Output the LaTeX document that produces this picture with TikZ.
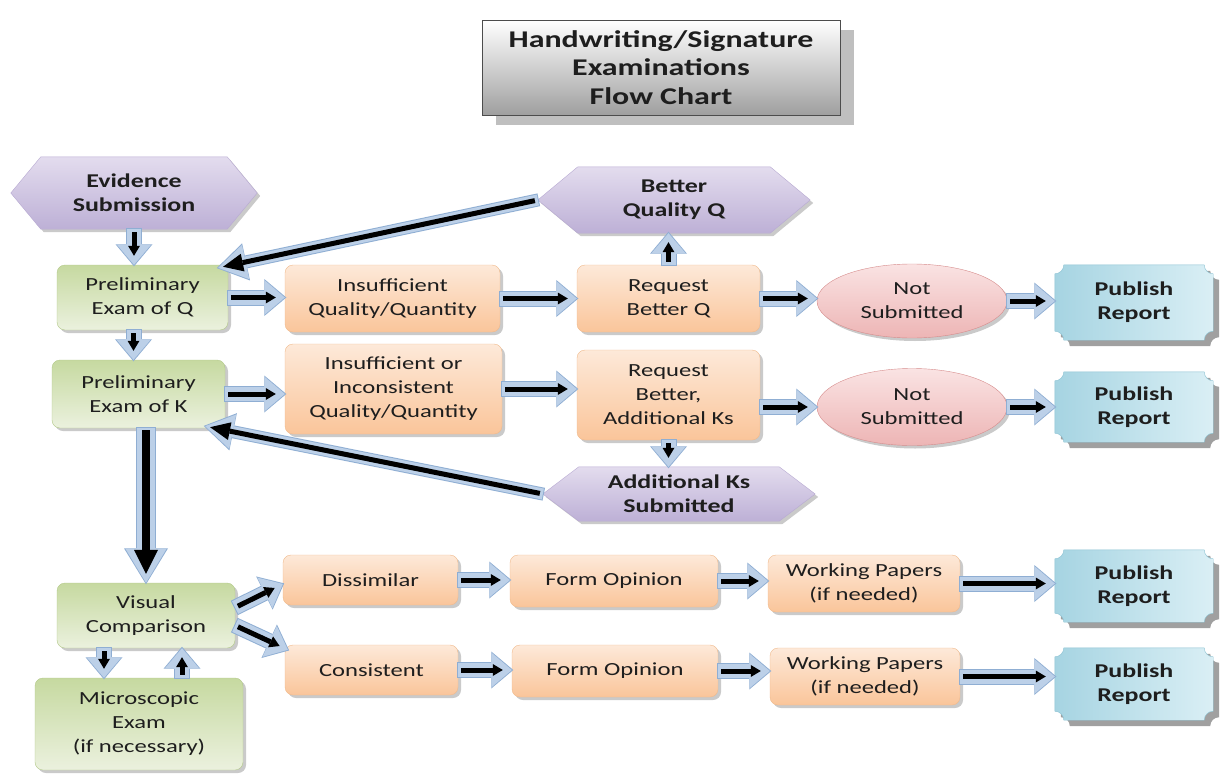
\documentclass[tikz,border=0pt]{standalone}
\usepackage{fontspec}
\setmainfont{Carlito}[FakeStretch=1.33]
\usetikzlibrary{arrows.meta,shapes.geometric,shadows,calc}
\pgfdeclarelayer{bg}\pgfsetlayers{bg,main}
\definecolor{txt}{HTML}{1E1E1E}
\definecolor{arrblue}{HTML}{BCD0E8}
\definecolor{arrline}{HTML}{8FAED3}
\definecolor{greenA}{HTML}{C6D9A0}
\definecolor{greenB}{HTML}{EBF1DE}
\definecolor{greenline}{HTML}{B3C98A}
\definecolor{orangeA}{HTML}{FDE9D9}
\definecolor{orangeB}{HTML}{FAC59A}
\definecolor{orangeline}{HTML}{F0BA8C}
\definecolor{pinkA}{HTML}{FAE3E3}
\definecolor{pinkB}{HTML}{EDB5B5}
\definecolor{pinkline}{HTML}{D68C8C}
\definecolor{hexA}{HTML}{E3DCEE}
\definecolor{hexB}{HTML}{BDB0D6}
\definecolor{hexline}{HTML}{B8AAD2}
\definecolor{pubA}{HTML}{A6D4E2}
\definecolor{pubB}{HTML}{DAEFF5}
\definecolor{publine}{HTML}{8CC2D2}
\newcommand\fat[2]{\draw[fo#1] #2;\draw[fb#1] #2;\draw[fk#1] #2;}
\begin{document}
\begin{tikzpicture}[x=1pt,y=1pt,
  every node/.style={font=\fontsize{18.5}{24}\selectfont, text=txt, align=center, inner sep=0pt},
  sz/.style 2 args={minimum width=#1pt, minimum height=#2pt},
  bold/.style={font=\fontsize{19.5}{24}\selectfont\bfseries},
  smallshadow/.style={drop shadow={shadow xshift=3pt, shadow yshift=-3pt, fill=black!35, opacity=.6}},
  greenbox/.style={rectangle, rounded corners=8pt, draw=greenline, top color=greenA, bottom color=greenB, smallshadow},
  orangebox/.style={rectangle, rounded corners=8pt, draw=orangeline, top color=orangeA, bottom color=orangeB, smallshadow},
  pinkell/.style={ellipse, draw=pinkline, top color=pinkA, bottom color=pinkB, smallshadow},
  hexa/.style={draw=hexline, top color=hexA, bottom color=hexB, drop shadow={shadow xshift=3pt, shadow yshift=-3pt, fill=black!35, opacity=.6}},
  plaque/.style={draw=publine, left color=pubA, right color=pubB, drop shadow={shadow xshift=6pt, shadow yshift=-6pt, fill=black!50, opacity=.75}},
  titlebox/.style={rectangle, draw=gray!60!black, top color=white, bottom color=gray!75, drop shadow={shadow xshift=14pt, shadow yshift=-10pt, fill=gray!50, opacity=1}, font=\fontsize{24}{28.5}\selectfont\bfseries},
  foS/.style={draw=arrline, line width=16pt, -{Triangle[width=37pt,length=22pt,line width=0pt]}, shorten >=-1.5pt, shorten <=-1pt},
  fbS/.style={draw=arrblue, line width=14pt, -{Triangle[width=34pt,length=20pt,line width=0pt]}},
  fkS/.style={draw=black, line width=5pt, -{Triangle[width=12pt,length=10pt,line width=0pt]}, shorten >=9pt, shorten <=3pt},
  foL/.style={draw=arrline, line width=13pt, -{Triangle[width=38pt,length=30pt,line width=0pt]}, shorten >=-1.5pt, shorten <=-1pt},
  fbL/.style={draw=arrblue, line width=11pt, -{Triangle[width=35pt,length=28pt,line width=0pt]}},
  fkL/.style={draw=black, line width=5pt, -{Triangle[width=18pt,length=20pt,line width=0pt]}, shorten >=5pt, shorten <=3pt},
  foV/.style={draw=arrline, line width=20pt, -{Triangle[width=44pt,length=36pt,line width=0pt]}, shorten >=-1.5pt, shorten <=-1pt},
  fbV/.style={draw=arrblue, line width=18pt, -{Triangle[width=41pt,length=34pt,line width=0pt]}},
  fkV/.style={draw=black, line width=8pt, -{Triangle[width=24pt,length=24pt,line width=0pt]}, shorten >=9pt, shorten <=2pt}
]
\useasboundingbox (0,0) rectangle (1231,-776);

% title
\node[titlebox, sz={358}{95}] (title) at (661,-67.5) {Handwriting/Signature\\Examinations\\Flow Chart};

% hexagon labels
\node[bold, sz={246}{72}] (ev) at (134,-193) {Evidence\\Submission};
\node[bold, sz={272}{66}] (bq) at (674,-200) {Better\\Quality Q};
\node[bold, sz={272}{54}] (ak) at (679,-494) {Additional Ks\\Submitted};

% row Q
\node[greenbox, sz={171}{65}] (pq) at (142.5,-297.5) {Preliminary\\Exam of Q};
\node[orangebox, sz={215}{67}] (iq) at (392.5,-298.5) {Insufficient\\Quality/Quantity};
\node[orangebox, sz={183}{67}] (rq) at (668.5,-298.5) {Request\\Better Q};
\node[pinkell, sz={190}{74}] (ns1) at (912,-301) {Not\\Submitted};
\node[bold, sz={158}{75}] (pr1) at (1134,-302.5) {Publish\\Report};

% row K
\node[greenbox, sz={173}{68}] (pk) at (138.5,-394) {Preliminary\\Exam of K};
\node[orangebox, sz={217}{90}] (ik) at (393.5,-389) {Insufficient or\\Inconsistent\\Quality/Quantity};
\node[orangebox, sz={183}{90}] (rk) at (668.5,-395) {Request\\Better,\\Additional Ks};
\node[pinkell, sz={190}{77}] (ns2) at (912,-407) {Not\\Submitted};
\node[bold, sz={158}{70}] (pr2) at (1134,-407) {Publish\\Report};

% comparison
\node[greenbox, sz={178}{65}] (vc) at (146,-615.5) {Visual\\Comparison};
\node[greenbox, sz={208}{92}] (me) at (139,-724) {Microscopic\\Exam\\(if necessary)};
\node[orangebox, sz={175}{50}] (di) at (370.5,-580) {Dissimilar};
\node[orangebox, sz={208}{52}] (fo1) at (614,-581) {Form Opinion};
\node[orangebox, sz={192}{57}] (wp1) at (864,-583.5) {Working Papers\\(if needed)};
\node[bold, sz={158}{72}] (pr3) at (1134,-586) {Publish\\Report};
\node[orangebox, sz={173}{50}] (co) at (371.5,-670) {Consistent};
\node[orangebox, sz={206}{52}] (fo2) at (615,-671) {Form Opinion};
\node[orangebox, sz={190}{57}] (wp2) at (865,-676.5) {Working Papers\\(if needed)};
\node[bold, sz={158}{72}] (pr4) at (1134,-684) {Publish\\Report};

\begin{pgfonlayer}{bg}
\foreach \n/\a in {ev/30,bq/40,ak/36}{
  \path[hexa] (\n.west) -- ([xshift=\a pt]\n.north west) -- ([xshift=-\a pt]\n.north east) -- (\n.east) -- ([xshift=-\a pt]\n.south east) -- ([xshift=\a pt]\n.south west) -- cycle;}
\foreach \n in {pr1,pr2,pr3,pr4}{
  \path[plaque] ([yshift=-9pt]\n.north west) arc[start angle=-90,end angle=0,radius=9pt]
    -- ([xshift=-9pt]\n.north east) arc[start angle=180,end angle=270,radius=9pt]
    -- ([yshift=9pt]\n.south east) arc[start angle=90,end angle=180,radius=9pt]
    -- ([xshift=9pt]\n.south west) arc[start angle=0,end angle=90,radius=9pt] -- cycle;}
\end{pgfonlayer}

% connectors
\fat{S}{(ev.south) -- (ev.south |- pq.north)}
\fat{S}{([xshift=-9pt]pq.south) -- ([xshift=-9pt]pq.south |- pk.north)}
\fat{V}{(pk.south -| vc.north) -- (vc.north)}
\fat{S}{(pq.east) -- (pq.east -| iq.west)}
\fat{S}{(iq.east) -- (iq.east -| rq.west)}
\fat{S}{(rq.east) -- (rq.east -| ns1.west)}
\fat{S}{(ns1.east) -- (ns1.east -| pr1.west)}
\fat{S}{(rq.north) -- (rq.north |- bq.south)}
\fat{L}{(bq.west) -- ([xshift=-10pt,yshift=-3pt]pq.north east)}
\fat{S}{(pk.east) -- (pk.east -| ik.west)}
\fat{S}{(ik.east) -- (ik.east -| rk.west)}
\fat{S}{(rk.east |- ns2.west) -- (ns2.west)}
\fat{S}{(ns2.east) -- (ns2.east -| pr2.west)}
\fat{S}{(rk.south) -- (rk.south |- ak.north)}
\fat{L}{(ak.west) -- ([xshift=-20pt,yshift=2pt]pk.south east)}
\fat{S}{([yshift=8pt]vc.east) -- ([yshift=-4pt]di.west)}
\fat{S}{([yshift=-10pt]vc.east) -- ([shift={(3pt,-5pt)}]co.north west)}
\fat{S}{(di.east) -- (di.east -| fo1.west)}
\fat{S}{(fo1.east) -- (fo1.east -| wp1.west)}
\fat{S}{(wp1.east) -- (wp1.east -| pr3.west)}
\fat{S}{(co.east) -- (co.east -| fo2.west)}
\fat{S}{(fo2.east) -- (fo2.east -| wp2.west)}
\fat{S}{(wp2.east) -- (wp2.east -| pr4.west)}
\fat{S}{([xshift=-42pt]vc.south) -- ([xshift=-42pt]vc.south |- me.north)}
\fat{S}{([xshift=36pt]vc.south |- me.north) -- ([xshift=36pt]vc.south)}
\end{tikzpicture}
\end{document}
